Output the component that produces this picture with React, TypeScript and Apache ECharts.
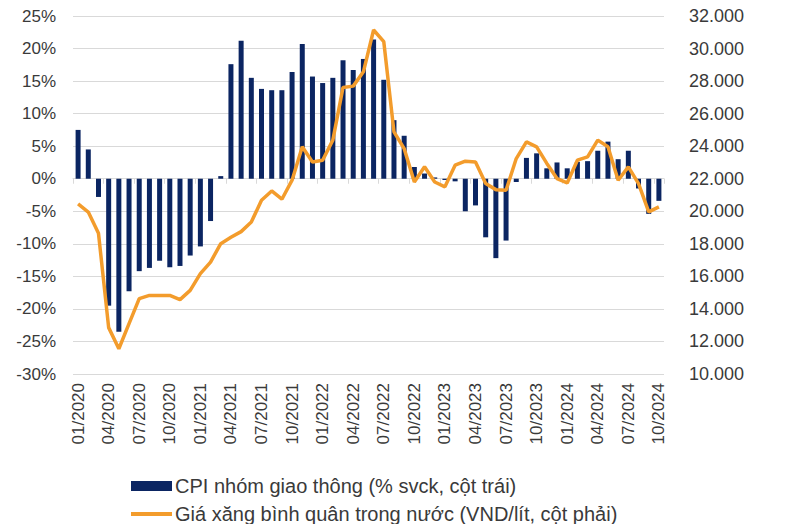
import React, { useEffect, useRef } from "react";
import * as echarts from "echarts";

const categories = [
  "01/2020","02/2020","03/2020","04/2020","05/2020","06/2020","07/2020","08/2020","09/2020","10/2020","11/2020","12/2020",
  "01/2021","02/2021","03/2021","04/2021","05/2021","06/2021","07/2021","08/2021","09/2021","10/2021","11/2021","12/2021",
  "01/2022","02/2022","03/2022","04/2022","05/2022","06/2022","07/2022","08/2022","09/2022","10/2022","11/2022","12/2022",
  "01/2023","02/2023","03/2023","04/2023","05/2023","06/2023","07/2023","08/2023","09/2023","10/2023","11/2023","12/2023",
  "01/2024","02/2024","03/2024","04/2024","05/2024","06/2024","07/2024","08/2024","09/2024","10/2024",
];

const cpiTransport = [
  7.5, 4.5, -2.8, -19.5, -23.5, -17.3, -14.2, -13.7, -12.6, -13.6,
  -13.4, -11.8, -10.4, -6.5, 0.4, 17.6, 21.2, 15.5, 13.8, 13.6,
  13.6, 16.4, 20.7, 15.7, 14.7, 15.5, 18.2, 16.7, 18.4, 21.4,
  15.2, 9.0, 6.6, 1.8, 0.8, 0.2, -0.2, -0.4, -5.0, -4.1,
  -9.0, -12.2, -9.5, -0.5, 3.2, 3.9, 1.6, 2.5, 1.6, 2.6,
  2.7, 4.3, 5.7, 3.0, 4.3, -1.5, -5.4, -3.4,
];

const petrolPrice = [
  20450, 19950, 18650, 12850, 11550, 13100, 14630, 14830, 14830, 14830,
  14570, 15140, 16170, 16880, 18010, 18400, 18750, 19340, 20680, 21250,
  20740, 21910, 23960, 23030, 23140, 24370, 27610, 27690, 28570, 31140,
  30420, 24880, 23850, 21800, 22730, 21800, 21500, 22830, 23080, 23030,
  21700, 21330, 21290, 23240, 24260, 23960, 22940, 22010, 21740, 23140,
  23340, 24370, 23960, 21910, 22730, 21700, 19960, 20270,
];

const barName = "CPI nhóm giao thông (% svck, cột trái)";
const lineName = "Giá xăng bình quân trong nước (VND/lít, cột phải)";

const NAVY = "#0b2562";
const ORANGE = "#f39c2c";
const TEXT = "#3a3a3a";
const GRID = "#d9d9d9";
const FONT = "Liberation Sans, Arial, sans-serif";

export default function App() {
  const ref = useRef<HTMLDivElement>(null);
  useEffect(() => {
    if (!ref.current) return;
    const chart = echarts.init(ref.current, null, { renderer: "svg" });
    chart.setOption({
      animation: false,
      backgroundColor: "#ffffff",
      textStyle: { fontFamily: FONT },
      grid: { left: 73, right: 136, top: 16, bottom: 158, containLabel: false },
      legend: [
        {
          data: [{ name: barName, icon: "rect" }],
          left: 131,
          top: 476,
          padding: 0,
          itemWidth: 41,
          itemHeight: 10,
          itemGap: 3,
          textStyle: { fontSize: 20, color: TEXT, fontFamily: FONT, padding: [0, 0, 0, -2] },
        },
        {
          data: [{ name: lineName, icon: "rect" }],
          left: 131,
          top: 504,
          padding: 0,
          itemWidth: 41,
          itemHeight: 4,
          textStyle: { fontSize: 20, color: TEXT, fontFamily: FONT, padding: [0, 0, 0, -2] },
        },
      ],
      xAxis: [
        {
          type: "category",
          data: categories,
          boundaryGap: true,
          axisLine: { show: true, onZero: true, lineStyle: { color: GRID, width: 1 } },
          axisTick: { show: true, interval: 2, length: 5, lineStyle: { color: GRID } },
          axisLabel: { show: false },
          splitLine: { show: false },
        },
        {
          type: "category",
          data: categories,
          boundaryGap: true,
          position: "bottom",
          axisLine: { show: false, onZero: false },
          axisTick: { show: false },
          axisLabel: {
            show: true,
            interval: 2,
            rotate: 90,
            margin: 9,
            fontSize: 17,
            color: TEXT,
            fontFamily: FONT,
          },
          splitLine: { show: false },
        },
      ],
      yAxis: [
        {
          type: "value",
          min: -30,
          max: 25,
          interval: 5,
          axisLine: { show: false },
          axisTick: { show: false },
          axisLabel: {
            formatter: (v: number) => `${v}%`,
            fontSize: 17,
            color: TEXT,
            fontFamily: FONT,
            margin: 17,
          },
          splitLine: { show: true, lineStyle: { color: GRID, width: 1 } },
        },
        {
          type: "value",
          min: 10000,
          max: 32000,
          interval: 2000,
          position: "right",
          axisLine: { show: false },
          axisTick: { show: false },
          axisLabel: {
            formatter: (v: number) => {
              const t = Math.floor(v / 1000);
              return `${t}.000`;
            },
            fontSize: 18,
            color: TEXT,
            fontFamily: FONT,
            margin: 25,
          },
          splitLine: { show: false },
        },
      ],
      series: [
        {
          name: barName,
          type: "bar",
          xAxisIndex: 0,
          yAxisIndex: 0,
          data: cpiTransport,
          barWidth: 5,
          itemStyle: { color: NAVY },
        },
        {
          name: lineName,
          type: "line",
          xAxisIndex: 0,
          yAxisIndex: 1,
          data: petrolPrice,
          symbol: "none",
          lineStyle: { color: ORANGE, width: 3.5 },
          itemStyle: { color: ORANGE },
          z: 3,
        },
      ],
    });
    return () => chart.dispose();
  }, []);
  return <div ref={ref} style={{ width: 800, height: 532, margin: -8 }} />;
}
